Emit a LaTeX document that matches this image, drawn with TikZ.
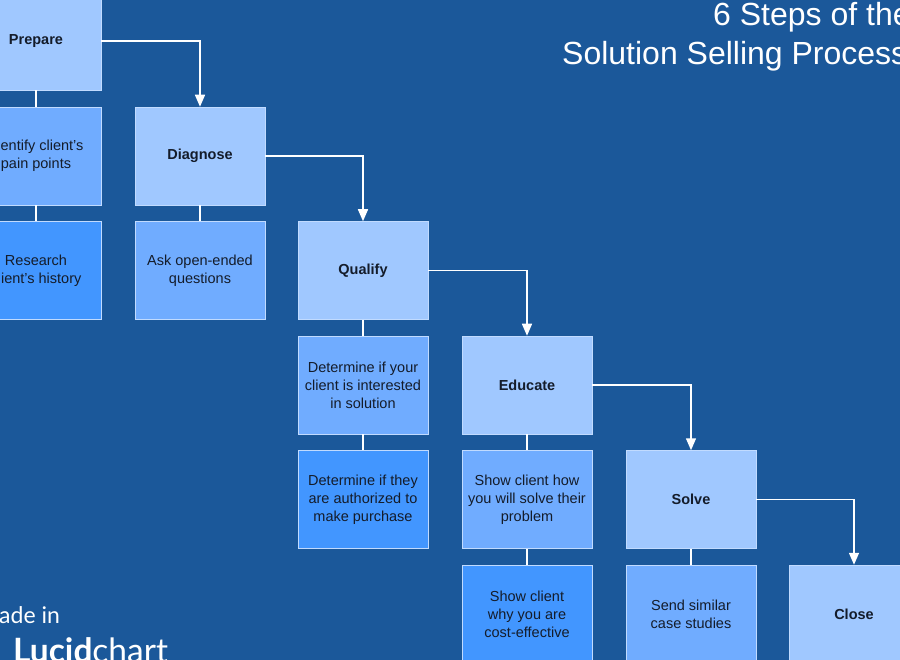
\documentclass[tikz,border=0pt]{standalone}
\usepackage{fontspec}
\setmainfont{Liberation Sans}
\newfontfamily\logofont{Lato}
\usetikzlibrary{arrows.meta}
\definecolor{bg}{RGB}{27,88,154}
\definecolor{mainc}{RGB}{160,200,255}
\definecolor{subc}{RGB}{112,172,255}
\definecolor{deepc}{RGB}{66,150,255}
\definecolor{txt}{RGB}{20,28,42}
\begin{document}
\begin{tikzpicture}[x=1pt,y=-1pt,
  box/.style={rectangle, minimum width=130pt, minimum height=98pt, inner sep=0pt,
    align=center, font=\fontsize{14.5}{18}\selectfont, text=txt,
    draw=white!35!mainc, line width=0.5pt},
  mainbox/.style={box, fill=mainc, font=\bfseries\fontsize{14.5}{18}\selectfont},
  subbox/.style={box, fill=subc},
  deepbox/.style={box, fill=deepc},
  link/.style={draw=white, line width=1.5pt},
  flow/.style={draw=white, line width=1.5pt, -{Triangle[width=10pt,length=12pt]}},
  title/.style={anchor=base west, inner sep=0pt, text=white, font=\fontsize{32}{36}\selectfont}
]
\useasboundingbox (0,0) rectangle (900,660);
\clip (0,0) rectangle (900,660);
\fill[bg] (0,0) rectangle (900,660);

% title
\node[title] (t1) at (713,26) {6 Steps of the};
\node[title] (t2) at (562,65) {Solution Selling Process};

% logo
\node[anchor=base west, inner sep=0pt, text=white, font=\logofont\fontsize{23}{26}\selectfont] (made) at (-22,623) {Made in};
\node[anchor=base west, inner sep=0pt, text=white, font=\logofont\fontsize{33.5}{36}\selectfont] (lucid) at (13,662) {\textbf{Lucid}chart};

% column 1
\node[mainbox] (prepare) at (36,41) {Prepare};
\node[subbox] (identify) at (36,156) {Identify client's\\pain points};
\node[deepbox] (research) at (36,270.5) {Research\\client's history};
% column 2
\node[mainbox] (diagnose) at (200,156) {Diagnose};
\node[subbox] (ask) at (200,270.5) {Ask open-ended\\questions};
% column 3
\node[mainbox] (qualify) at (363,270.5) {Qualify};
\node[subbox] (det1) at (363,385) {Determine if your\\client is interested\\in solution};
\node[deepbox] (det2) at (363,499.5) {Determine if they\\are authorized to\\make purchase};
% column 4
\node[mainbox] (educate) at (527,385) {Educate};
\node[subbox] (show1) at (527,499.5) {Show client how\\you will solve their\\problem};
\node[deepbox] (show2) at (527,614) {Show client\\why you are\\cost-effective};
% column 5
\node[mainbox] (solve) at (691,499.5) {Solve};
\node[subbox] (send) at (691,614) {Send similar\\case studies};
% column 6
\node[mainbox] (close) at (854,614) {Close};

% stacked links
\draw[link] (prepare) -- (identify);
\draw[link] (identify) -- (research);
\draw[link] (diagnose) -- (ask);
\draw[link] (qualify) -- (det1);
\draw[link] (det1) -- (det2);
\draw[link] (educate) -- (show1);
\draw[link] (show1) -- (show2);
\draw[link] (solve) -- (send);

% flow arrows
\draw[flow] (prepare.east) -| (diagnose.north);
\draw[flow] (diagnose.east) -| (qualify.north);
\draw[flow] (qualify.east) -| (educate.north);
\draw[flow] (educate.east) -| (solve.north);
\draw[flow] (solve.east) -| (close.north);
\end{tikzpicture}
\end{document}
